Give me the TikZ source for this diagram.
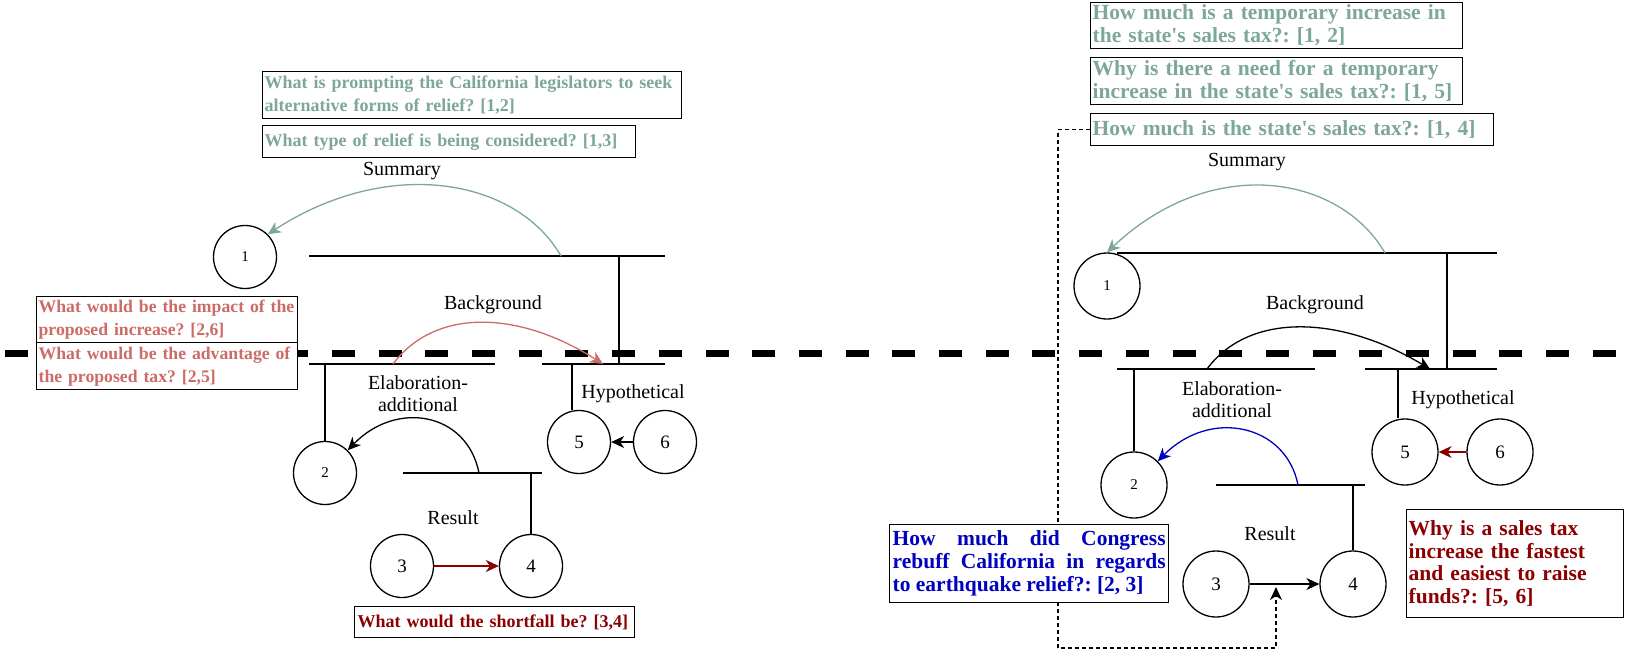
\documentclass[tikz,border=0pt]{standalone}
\usepackage{fontspec}
\setmainfont{Liberation Serif}
\usetikzlibrary{arrows.meta}
\definecolor{qteal}{HTML}{7DA797}
\definecolor{qrose}{HTML}{CD6B66}
\definecolor{qmaroon}{HTML}{8B0000}
\definecolor{qblue}{HTML}{0000C0}
\newcommand{\apos}{\textquotesingle}

\begin{document}
\frenchspacing
\begin{tikzpicture}[x=1pt,y=1pt,>={Stealth[length=13pt,width=12pt,inset=4pt]}]
\tikzstyle{every node}+=[inner sep=0pt]
\tikzstyle{unit}=[draw, circle, line width=1.3pt, minimum size=63pt, font=\fontsize{19}{19}\selectfont]
\tikzstyle{unitwide}=[unit, minimum size=66pt]
\tikzstyle{lowdigit}=[font=\fontsize{15}{15}\selectfont]
\tikzstyle{bar}=[line width=1.4pt]
\tikzstyle{rel}=[align=center, font=\fontsize{20}{22}\selectfont]
\tikzstyle{qbox}=[draw, line width=1.3pt, fill=white, anchor=north west, align=left, inner xsep=2pt, font=\bfseries\fontsize{18}{23}\selectfont]
\tikzstyle{qboxwide}=[qbox, font=\bfseries\fontsize{21.5}{23}\selectfont]
\tikzstyle{link}=[->, line width=1.3pt]
\tikzstyle{cut}=[line width=7pt, dash pattern=on 23pt off 23.7pt]
\useasboundingbox (0,0) rectangle (1625,-669);

% the cut through both trees
\draw[cut] (5,-353) -- (1625,-353);

% left tree
\node[unit, lowdigit] (l1) at (245,-257) {1};
\node[unit, lowdigit] (l2) at (325,-473) {2};
\node[unit] (l3) at (402,-566) {3};
\node[unit] (l4) at (531,-566) {4};
\node[unit] (l5) at (579,-442) {5};
\node[unit] (l6) at (665,-442) {6};
\coordinate (sumL) at (309,-256); \coordinate (sumR) at (665,-256);
\coordinate (sumJ) at (619,-256); \coordinate (sumA) at (561,-256);
\coordinate (elbL) at (309,-364); \coordinate (elbR) at (495,-364);
\coordinate (hypL) at (542,-364); \coordinate (hypR) at (665,-364);
\coordinate (hypJ) at (572,-364);
\coordinate (bgA) at (393,-364); \coordinate (bgT) at (603,-364);
\coordinate (resL) at (403,-473); \coordinate (resR) at (542,-473);
\coordinate (elA) at (479,-473);
\draw[bar] (sumL) -- (sumR);
\draw[bar] (sumJ) -- (sumJ |- hypR);
\draw[bar] (elbL) -- (elbR);
\draw[bar] (l2.north |- elbL) -- (l2.north);
\draw[bar] (hypL) -- (hypR);
\draw[bar] (hypJ) -- (hypJ |- l5.north);
\draw[bar] (resL) -- (resR);
\draw[bar] (l4.north |- resL) -- (l4.north);
\node[rel] (sumlab) at (402,-171) {Summary};
\node[rel] (bglab) at (493,-305) {Background};
\node[rel] (elblab) at (418,-394) {Elaboration-\\additional};
\node[rel] (hyplab) at (633,-394) {Hypothetical};
\node[rel] (reslab) at (453,-518) {Result};
\draw[link, qteal] (sumA) .. controls (516,-178) and (388,-156) .. (l1.45);
\draw[link, qrose] (bgA) .. controls (435,-308) and (518,-310) .. (bgT);
\draw[link] (elA) .. controls (467,-412) and (396,-400) .. (l2.north east);
\draw[link] (l6) -- (l5);
\draw[link, qmaroon] (l3) -- (l4);
\node[qbox, text=qteal, text width=415pt, minimum height=47pt] (q12) at (262,-71)
  {\mbox{What is prompting the California legislators to seek}\\\mbox{alternative forms of relief? [1,2]}};
\node[qbox, text=qteal, text width=369pt, minimum height=32pt] (q13) at (262,-125)
  {\mbox{What type of relief is being considered? [1,3]}};
\node[qbox, text=qrose, text width=257pt, minimum height=46pt, font=\bfseries\fontsize{17.7}{23}\selectfont] (q26) at (36,-296)
  {\mbox{What would be the impact of the}\\\mbox{proposed increase? [2,6]}};
\node[qbox, text=qrose, text width=257pt, minimum height=47pt, font=\bfseries\fontsize{17.7}{23}\selectfont] (q25) at (36,-342)
  {\mbox{What would be the advantage of}\\\mbox{the proposed tax? [2,5]}};
\node[qbox, text=qmaroon, text width=274pt, minimum height=31pt, inner xsep=3pt] (q34) at (354,-606)
  {\mbox{What would the shortfall be? [3,4]}};

% right tree
\node[unitwide, lowdigit] (r1) at (1107,-286) {1};
\node[unitwide, lowdigit] (r2) at (1134,-485) {2};
\node[unitwide] (r3) at (1216,-584) {3};
\node[unitwide] (r4) at (1353,-584) {4};
\node[unitwide] (r5) at (1405,-452) {5};
\node[unitwide] (r6) at (1500,-452) {6};
\coordinate (sumL2) at (1117,-253); \coordinate (sumR2) at (1497,-253);
\coordinate (sumJ2) at (1447,-253); \coordinate (sumA2) at (1385,-253);
\coordinate (elbL2) at (1117,-369); \coordinate (elbR2) at (1315,-369);
\coordinate (hypL2) at (1365,-369); \coordinate (hypR2) at (1497,-369);
\coordinate (hypJ2) at (1398,-369);
\coordinate (bgA2) at (1207,-369); \coordinate (bgT2) at (1430,-369);
\coordinate (resL2) at (1216,-485); \coordinate (resR2) at (1365,-485);
\coordinate (elA2) at (1298,-485);
\coordinate (loopB) at (1058,-648); \coordinate (hit) at (1276,-587);
\draw[bar] (sumL2) -- (sumR2);
\draw[bar] (sumJ2) -- (sumJ2 |- hypR2);
\draw[bar] (elbL2) -- (elbR2);
\draw[bar] (r2.north |- elbL2) -- (r2.north);
\draw[bar] (hypL2) -- (hypR2);
\draw[bar] (hypJ2) -- (hypJ2 |- r5.north);
\draw[bar] (resL2) -- (resR2);
\draw[bar] (r4.north |- resL2) -- (r4.north);
\node[rel] (sumlab2) at (1247,-162) {Summary};
\node[rel] (bglab2) at (1315,-305) {Background};
\node[rel] (elblab2) at (1232,-400) {Elaboration-\\additional};
\node[rel] (hyplab2) at (1463,-400) {Hypothetical};
\node[rel] (reslab2) at (1270,-534) {Result};
\draw[link, qteal] (sumA2) .. controls (1340,-175) and (1212,-153) .. (r1.north);
\draw[link] (bgA2) .. controls (1249,-312) and (1340,-315) .. (bgT2);
\draw[link, qblue] (elA2) .. controls (1286,-424) and (1210,-408) .. (r2.north east);
\draw[link, qmaroon] (r6) -- (r5);
\draw[link] (r3) -- (r4);
\node[qboxwide, text=qteal, text width=368pt, minimum height=46pt] (q12b) at (1090,-2)
  {\mbox{How much is a temporary increase in}\\\mbox{the state\apos s sales tax?: [1, 2]}};
\node[qboxwide, text=qteal, text width=368pt, minimum height=47pt] (q15b) at (1090,-57)
  {\mbox{Why is there a need for a temporary}\\\mbox{increase in the state\apos s sales tax?: [1, 5]}};
\node[qboxwide, text=qteal, text width=399pt, minimum height=32pt] (q14b) at (1090,-113)
  {\mbox{How much is the state\apos s sales tax?: [1, 4]}};
\draw[link, line width=1.2pt, dash pattern=on 4pt off 3pt] (q14b.west) -| (loopB) -| (hit);
\node[qboxwide, text=qblue, text width=273pt, minimum height=78pt, inner xsep=3pt, align=justify] (q23b) at (889,-524)
  {How much did Congress\linebreak rebuff California in regards\linebreak to earthquake relief?: [2, 3]};
\node[qboxwide, text=qmaroon, text width=213pt, minimum height=108pt, font=\bfseries\fontsize{21.5}{22.5}\selectfont] (q56b) at (1406,-509)
  {Why is a sales tax\\increase the fastest\\and easiest to raise\\funds?: [5, 6]};
\end{tikzpicture}
\end{document}
